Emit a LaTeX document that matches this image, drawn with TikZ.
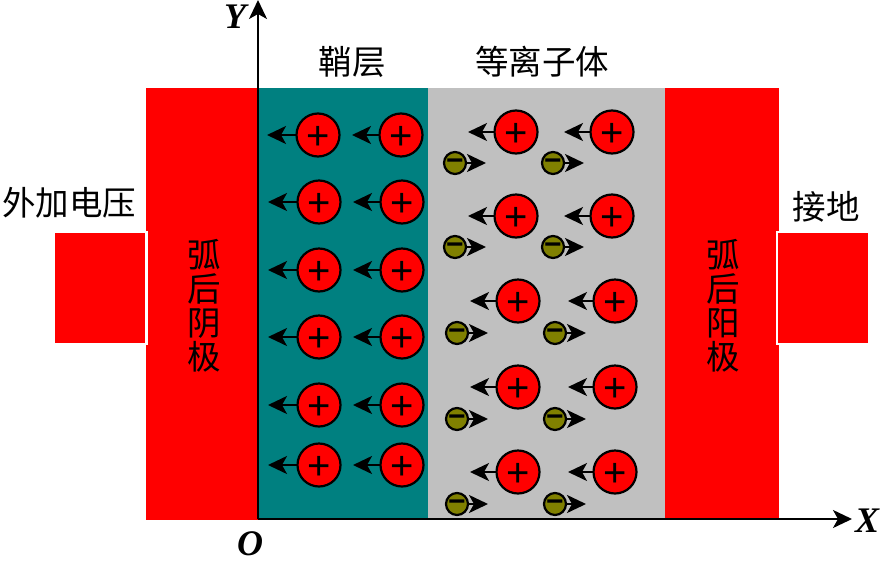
\documentclass[tikz,border=0pt]{standalone}
\usepackage{fontspec}
\setmainfont{Liberation Serif}
\newfontfamily\cjk{Noto Sans CJK SC}
\newfontfamily\signfont{Liberation Sans}
\usetikzlibrary{arrows.meta}
\definecolor{elecred}{RGB}{255,0,0}
\definecolor{sheath}{RGB}{0,128,128}
\definecolor{plasma}{RGB}{192,192,192}
\definecolor{electron}{RGB}{128,128,0}
\tikzset{
  region/.style={draw=none,inner sep=0pt,outer sep=0pt,anchor=north west},
  cjklabel/.style={font=\cjk\fontsize{33.5}{34}\selectfont,inner sep=0pt,text=black},
  vertlabel/.style={cjklabel,align=center},
  axislabel/.style={font=\fontsize{36}{36}\selectfont\bfseries\itshape,inner sep=0pt},
  axisline/.style={line width=2pt,-{Stealth[length=19pt,width=18pt,inset=5pt]}},
  ionarrow/.style={line width=2pt,-{Stealth[length=19pt,width=18pt,inset=5pt]}},
  posion/.style={circle,draw=black,line width=2.2pt,fill=elecred,minimum size=43pt,inner sep=0pt,outer sep=0pt},
  negion/.style={circle,draw=black,line width=2.2pt,fill=electron,minimum size=22pt,inner sep=0pt,outer sep=0pt},
  possign/.style={font=\signfont\fontsize{40}{40}\selectfont,inner sep=0pt,yshift=-2.5pt},
  negsign/.style={font=\signfont\bfseries\fontsize{30}{30}\selectfont,inner sep=0pt,yshift=-2pt}
}
\begin{document}
\begin{tikzpicture}[x=1pt,y=-1pt]
\useasboundingbox (0,0) rectangle (883,560);
% electrodes and regions
\node[region,fill=elecred,minimum width=112pt,minimum height=432pt] (cathode) at (146,88) {};
\node[region,fill=sheath,minimum width=170pt,minimum height=431pt] (sheathlayer) at (258,88) {};
\node[region,fill=plasma,minimum width=237pt,minimum height=431pt] (plasmalayer) at (428,88) {};
\node[region,fill=elecred,minimum width=114pt,minimum height=431pt] (anode) at (665,88) {};
\node[region,fill=white,minimum width=3pt,minimum height=114pt] (gapl) at (145,231) {};
\node[region,fill=elecred,minimum width=90pt,minimum height=110pt] (padl) at (55,233) {};
\node[region,fill=white,minimum width=3pt,minimum height=114pt] (gapr) at (776,231) {};
\node[region,fill=elecred,minimum width=90pt,minimum height=110pt] (padr) at (778,233) {};
% axes
\coordinate (origin) at (258,519);
\coordinate (ytip) at (258,0);
\coordinate (xtip) at (852,519);
\draw[axisline] (origin) -- (ytip);
\draw[axisline] (origin) -- (xtip);
\node[axislabel] (ylab) at (235,17) {Y};
\node[axislabel] (xlab) at (867,521) {X};
\node[axislabel] (olab) at (250,544) {O};
% labels
\node[cjklabel] (l1) at (352,62) {鞘层};
\node[cjklabel] (l2) at (542,62) {等离子体};
\node[cjklabel] (l3) at (69,203) {外加电压};
\node[cjklabel] (l4) at (826,207) {接地};
\node[vertlabel] (l5) at (204,306) {弧\\后\\阴\\极};
\node[vertlabel] (l6) at (723,306) {弧\\后\\阳\\极};
% positive ions
\foreach \n/\x/\y/\t in {
  a/318/135/267, b/401/135/352,
  c/319/202/268, d/402/202/353,
  e/319/270/268, f/402/270/353,
  g/319/337/268, h/402/337/353,
  i/319/405/268, j/402/405/353,
  k/319/465/268, l/402/465/353,
  m/516/132/468, n/612/132/564,
  o/516/216/468, p/612/216/564,
  q/518/301/470, r/615/301/568,
  s/518/387/470, t/615/387/568,
  u/518/472/470, v/615/472/568}{
  \node[posion] (pos\n) at (\x,\y) {};
  \node[possign] (possgn\n) at (\x,\y) {+};
  \coordinate (postip\n) at (\t,\y);
  \draw[ionarrow] (pos\n.west) -- (postip\n);
}
% electrons
\foreach \n/\x/\y in {
  a/455/163, b/553/163,
  c/455/247, d/553/247,
  e/457/333, f/555/333,
  g/457/419, h/555/419,
  i/457/504, j/555/504}{
  \node[negion] (neg\n) at (\x,\y) {};
  \node[negsign] (negsgn\n) at (\x,\y) {−};
  \coordinate (negtip\n) at ({\x+31},\y);
  \draw[ionarrow] (neg\n.east) -- (negtip\n);
}
\end{tikzpicture}
\end{document}
